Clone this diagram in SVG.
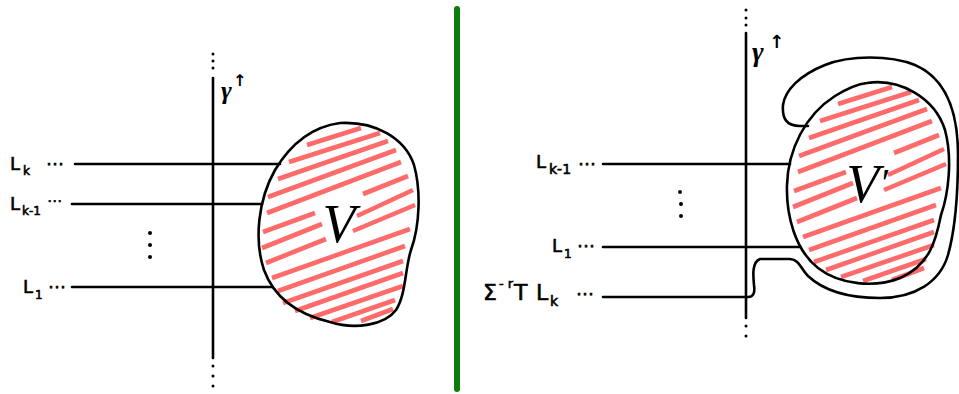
<svg xmlns="http://www.w3.org/2000/svg" xmlns:xlink="http://www.w3.org/1999/xlink" width="959" height="394" viewBox="0 0 959 394">
<style>
.ln{stroke:#000;stroke-width:2.6;fill:none;stroke-linecap:round;stroke-linejoin:round}
.blob{stroke:#000;stroke-width:2.6;fill:none;stroke-linejoin:round}
.hs{stroke:#ff6a6a;stroke-width:4.6;stroke-linecap:butt}
.dot{fill:#000}
.lab{font-family:"DejaVu Sans",sans-serif;font-size:18px;fill:#000;stroke:#000;stroke-width:0.6}
.sub{font-size:12px}
.big{font-family:"Liberation Serif",serif;font-style:italic;font-size:54px;fill:#000}
.gam{font-family:"Liberation Serif",serif;font-style:italic;font-weight:bold;fill:#000}
.arr{font-family:"DejaVu Sans",sans-serif;font-weight:bold;fill:#000}
</style>
<defs>
<g id="hatch">
<line class="hs" x1="307" y1="145" x2="361" y2="128"/>
<line class="hs" x1="289" y1="162" x2="380" y2="133"/>
<line class="hs" x1="278" y1="179" x2="388" y2="141"/>
<line class="hs" x1="268" y1="197" x2="396" y2="150"/>
<line class="hs" x1="267" y1="213" x2="401" y2="162"/>
<line class="hs" x1="363" y1="194" x2="408" y2="176"/>
<line class="hs" x1="263" y1="232" x2="315" y2="213"/>
<line class="hs" x1="357" y1="216" x2="413" y2="190"/>
<line class="hs" x1="262" y1="248" x2="322" y2="224"/>
<line class="hs" x1="353" y1="231" x2="415" y2="205"/>
<line class="hs" x1="266" y1="263" x2="326" y2="239"/>
<line class="hs" x1="272" y1="278" x2="410" y2="229"/>
<line class="hs" x1="278" y1="291" x2="405" y2="246"/>
<line class="hs" x1="283" y1="303" x2="403" y2="261"/>
<line class="hs" x1="295" y1="311" x2="403" y2="273"/>
<line class="hs" x1="310" y1="318" x2="403" y2="286"/>
<line class="hs" x1="332" y1="322" x2="395" y2="300"/>
<line class="hs" x1="361" y1="321" x2="393" y2="309"/>
</g>
</defs>
<rect width="959" height="394" fill="#fff"/>

<g id="divider">
<line x1="457" y1="9" x2="457" y2="389" stroke="#0a7d0a" stroke-width="6" stroke-linecap="round"/>
</g>

<g id="connectors">
<line class="ln" x1="213" y1="78" x2="213" y2="358"/>
<line class="ln" x1="75" y1="164" x2="280" y2="164"/>
<line class="ln" x1="72" y1="204" x2="262" y2="204"/>
<line class="ln" x1="72" y1="287" x2="272" y2="287"/>
<line class="ln" x1="746" y1="33" x2="746" y2="318"/>
<line class="ln" x1="603" y1="164" x2="790" y2="164"/>
<line class="ln" x1="603" y1="247" x2="800" y2="247"/>
<path class="ln" d="M 603,297 L 748,297 C 754,297 755,292 754,285 C 753,275 752,262 760,259 L 790,259 C 800,260 800,268 808,276 C 825,292 850,298 880,298 C 915,298 940,282 948,255 C 955,230 958,190 958,155 C 958,110 945,78 915,65 C 890,55 850,55 825,65 C 800,75 785,90 783,105 C 782,118 786,126 800,126 L 808,126"/>
</g>

<g id="axis-dots">
<circle class="dot" cx="213" cy="54" r="1.5"/>
<circle class="dot" cx="213" cy="61" r="1.5"/>
<circle class="dot" cx="213" cy="68" r="1.5"/>
<circle class="dot" cx="213" cy="366" r="1.5"/>
<circle class="dot" cx="213" cy="376" r="1.5"/>
<circle class="dot" cx="213" cy="386" r="1.5"/>
<circle class="dot" cx="746" cy="10" r="1.5"/>
<circle class="dot" cx="746" cy="18" r="1.5"/>
<circle class="dot" cx="746" cy="25" r="1.5"/>
<circle class="dot" cx="746" cy="326" r="1.5"/>
<circle class="dot" cx="746" cy="336" r="1.5"/>
<circle class="dot" cx="150" cy="233" r="2"/>
<circle class="dot" cx="150" cy="245" r="2"/>
<circle class="dot" cx="150" cy="257" r="2"/>
<circle class="dot" cx="680" cy="192" r="2"/>
<circle class="dot" cx="681" cy="204" r="2"/>
<circle class="dot" cx="681" cy="216" r="2"/>
</g>

<g id="blob-V">
<use xlink:href="#hatch" href="#hatch"/>
<path class="blob" d="M 340,123 C 375,121 405,138 414,165 C 421,190 420,225 411,250 C 405,268 406,295 396,310 C 385,325 355,330 330,322 C 300,315 275,300 264,270 C 254,240 258,200 275,170 C 290,145 310,127 340,123 Z"/>
<text class="big" x="339" y="242" text-anchor="middle">V</text>
</g>

<g id="blob-V-prime">
<use xlink:href="#hatch" href="#hatch" transform="translate(531,-41)"/>
<path class="blob" d="M 867,83 C 900,78 935,98 945,130 C 953,160 948,195 941,215 C 936,240 930,265 900,278 C 875,288 840,285 818,268 C 795,250 786,215 787,185 C 788,150 805,115 835,96 C 848,88 857,84 867,83 Z"/>
<text class="big" x="867" y="202" text-anchor="middle">V<tspan style="font-size:40px" dy="-6">′</tspan></text>
</g>

<g id="gamma-left">
<text class="gam" x="221" y="99" font-size="26">γ</text>
<text class="arr" x="233" y="86" style="font-size:16px">↑</text>
</g>
<g id="gamma-right">
<text class="gam" x="752" y="61" font-size="28">γ</text>
<text class="arr" x="769" y="48" style="font-size:18px">↑</text>
</g>

<g id="labels-left">
<text class="lab" x="10" y="170">L<tspan class="sub" x="23" y="175">k</tspan><tspan x="46" y="170">⋯</tspan></text>
<text class="lab" x="10" y="210">L<tspan class="sub" x="22" y="215">k-1</tspan><tspan x="47" y="206" style="font-size:15px">⋯</tspan></text>
<text class="lab" x="23" y="293">L<tspan class="sub" x="35" y="299">1</tspan><tspan x="48" y="293">⋯</tspan></text>
</g>

<g id="labels-right">
<text class="lab" x="536" y="168">L<tspan class="sub" x="549" y="174" style="font-size:14px">k-1</tspan><tspan x="578" y="170">⋯</tspan></text>
<text class="lab" x="552" y="252">L<tspan class="sub" x="564" y="258">1</tspan><tspan x="577" y="252">⋯</tspan></text>
<text class="lab" x="483" y="300" style="font-size:22px">Σ<tspan x="499" y="288" style="font-size:13px" textLength="14" lengthAdjust="spacing">-r</tspan><tspan x="514" y="300">T</tspan><tspan x="536" y="300">L</tspan><tspan x="550" y="306" style="font-size:14px">k</tspan><tspan x="576" y="300" style="font-size:18px">⋯</tspan></text>
</g>
</svg>
